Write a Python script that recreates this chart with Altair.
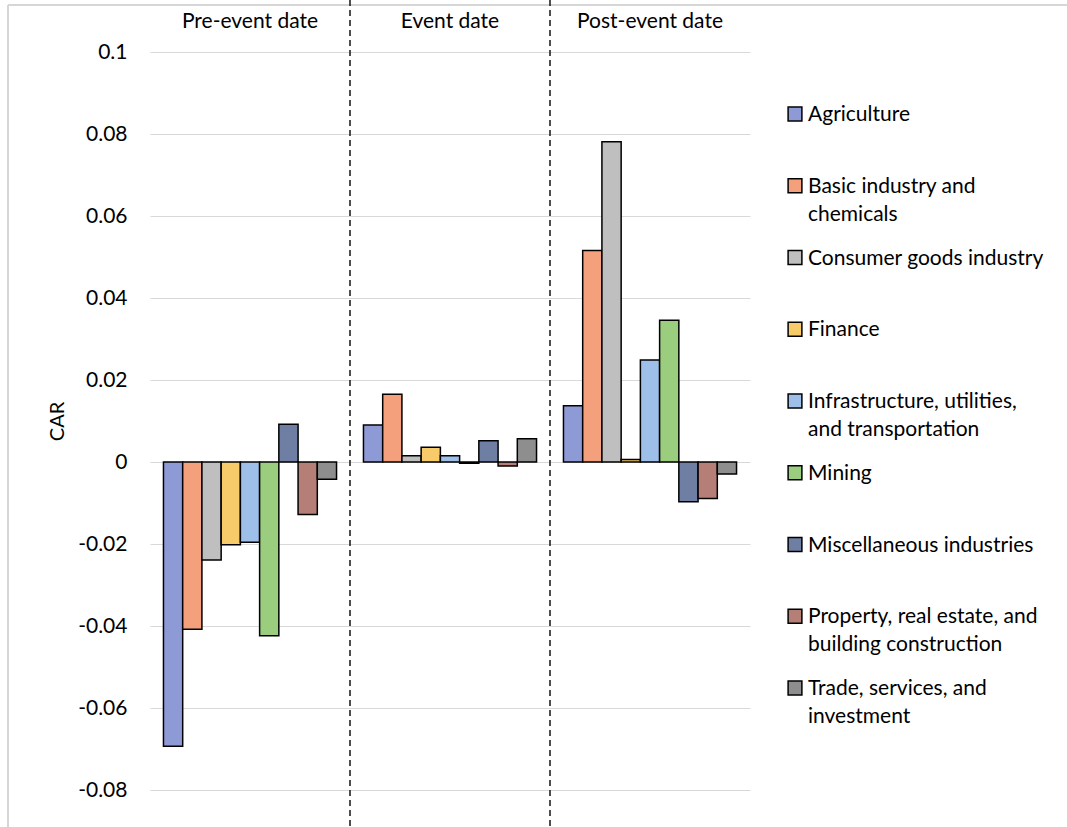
import altair as alt
import pandas as pd

groups = ["Pre-event date", "Event date", "Post-event date"]
sectors = [
    "Agriculture",
    "Basic industry and chemicals",
    "Consumer goods industry",
    "Finance",
    "Infrastructure, utilities, and transportation",
    "Mining",
    "Miscellaneous industries",
    "Property, real estate, and building construction",
    "Trade, services, and investment",
]
legend_labels = [
    "Agriculture",
    "Basic industry and\nchemicals",
    "Consumer goods industry",
    "Finance",
    "Infrastructure, utilities,\nand transportation",
    "Mining",
    "Miscellaneous industries",
    "Property, real estate, and\nbuilding construction",
    "Trade, services, and\ninvestment",
]
pre_event = [-0.0693, -0.0408, -0.0239, -0.0202, -0.0196, -0.0424, 0.0092, -0.0128, -0.0042]
event = [0.0090, 0.0165, 0.0015, 0.0036, 0.0015, -0.0003, 0.0052, -0.0010, 0.0057]
post_event = [0.0137, 0.0516, 0.0781, 0.0006, 0.0249, 0.0346, -0.0097, -0.0089, -0.0029]
colors = ["#8E9AD6", "#F4A07C", "#BFBFBF", "#F8CB6A", "#9DBFE9", "#9ACD7E", "#6F7FA3", "#B57E76", "#8E8E8E"]
y_ticks = [-0.08, -0.06, -0.04, -0.02, 0, 0.02, 0.04, 0.06, 0.08, 0.1]
separators = ["Event date", "Post-event date"]

rows = []
for g, vals in zip(groups, [pre_event, event, post_event]):
    for s, v in zip(sectors, vals):
        rows.append({"group": g, "sector": s, "value": v})
df = pd.DataFrame(rows)
sep_df = pd.DataFrame({"group": separators})
leg_df = pd.DataFrame({"sector": sectors, "label": legend_labels})
frame_df = pd.DataFrame({"k": [0]})

FS = 21

x_scale = alt.Scale(domain=groups, paddingInner=0, paddingOuter=0)
x_axis = alt.Axis(orient="top", title=None, ticks=False, domain=False, labelAngle=0,
                  labelFontSize=FS, labelPadding=21, labelColor="black")
color_enc = alt.Color("sector:N", scale=alt.Scale(domain=sectors, range=colors), legend=None)

bars = alt.Chart(df).mark_bar(stroke="black", strokeWidth=1.5).encode(
    x=alt.X("group:N", scale=x_scale, axis=x_axis),
    xOffset=alt.XOffset("sector:N", scale=alt.Scale(domain=sectors, paddingInner=0, paddingOuter=0.7)),
    y=alt.Y(
        "value:Q",
        scale=alt.Scale(domain=[-0.08, 0.1], nice=False),
        axis=alt.Axis(
            values=y_ticks,
            labelExpr="replace(format(datum.value, '.2~f'), '−', '-')",
            ticks=False, tickSize=0, domain=False, grid=True, gridColor="#D9D9D9", gridWidth=1.2,
            labelFontSize=FS, labelPadding=23, labelColor="black",
            title="CAR", titleFontSize=20, titleFontWeight="normal", titleColor="black",
            titleX=-93, titleY=369, titleBaseline="middle",
        ),
    ),
    color=color_enc,
)

rules = alt.Chart(sep_df).mark_rule(color="#222222", strokeWidth=1.6, strokeDash=[6, 4]).encode(
    x=alt.X("group:N", bandPosition=0, scale=x_scale, axis=x_axis),
    y=alt.value(-52),
    y2=alt.value(775),
)

# light frame around the figure (top and left edges)
frame_top = alt.Chart(frame_df).mark_rule(color="#D6D6D6", strokeWidth=2).encode(
    x=alt.value(-142), x2=alt.value(917), y=alt.value(-47)
)
frame_left = alt.Chart(frame_df).mark_rule(color="#D6D6D6", strokeWidth=2).encode(
    x=alt.value(-142), y=alt.value(-47), y2=alt.value(775)
)

leg_y = alt.Y("sector:N", scale=alt.Scale(type="point", domain=sectors, range=[62, 636], padding=0), axis=None)

squares = alt.Chart(leg_df).mark_square(size=190, stroke="black", strokeWidth=1.5, opacity=1).encode(
    x=alt.value(645), y=leg_y, color=color_enc
)
texts = alt.Chart(leg_df).mark_text(
    align="left", baseline="alphabetic", dy=7, fontSize=FS, lineBreak="\n", lineHeight=28, color="black"
).encode(x=alt.value(658), y=leg_y, text="label:N")

chart = alt.layer(frame_top, frame_left, bars, rules, squares, texts).resolve_scale(y="independent").properties(
    width=600, height=738,
    autosize=alt.AutoSizeParams(type="none"),
    padding={"left": 150, "top": 52, "right": 317, "bottom": 37},
).configure(font="Lato").configure_view(stroke=None)

chart.save("out.html", embed_options={"renderer": "svg", "actions": False})
